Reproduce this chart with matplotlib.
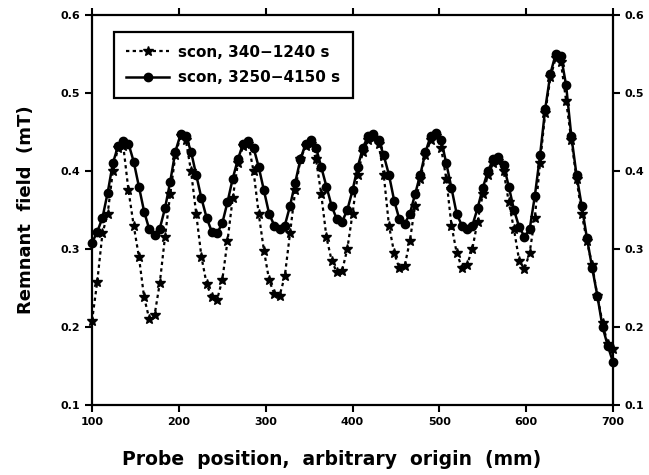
import numpy as np
import matplotlib
matplotlib.use("Agg")
import matplotlib.pyplot as plt

# probe positions (mm), 6 mm steps
position = list(range(100, 701, 6))

# scon, 340-1240 s  (dotted, stars)
early = [0.208, 0.258, 0.320, 0.345, 0.400, 0.430, 0.432, 0.375, 0.330, 0.290,
         0.238, 0.210, 0.215, 0.256, 0.315, 0.370, 0.420, 0.445, 0.440, 0.400,
         0.345, 0.290, 0.255, 0.238, 0.235, 0.260, 0.310, 0.365, 0.410, 0.432,
         0.435, 0.400, 0.345, 0.298, 0.260, 0.242, 0.240, 0.265, 0.320, 0.375,
         0.415, 0.432, 0.435, 0.415, 0.370, 0.315, 0.285, 0.270, 0.272, 0.300,
         0.345, 0.395, 0.425, 0.440, 0.442, 0.435, 0.395, 0.330, 0.295, 0.275,
         0.278, 0.310, 0.355, 0.390, 0.420, 0.440, 0.445, 0.430, 0.390, 0.330,
         0.295, 0.276, 0.280, 0.300, 0.335, 0.370, 0.395, 0.410, 0.413, 0.400,
         0.360, 0.325, 0.285, 0.274, 0.295, 0.340, 0.410, 0.475, 0.520, 0.545,
         0.540, 0.490, 0.440, 0.390, 0.345, 0.310, 0.280, 0.240, 0.205, 0.178,
         0.172]

# scon, 3250-4150 s  (solid, circles)
late = [0.308, 0.322, 0.340, 0.372, 0.410, 0.432, 0.438, 0.435, 0.412, 0.380,
        0.348, 0.325, 0.318, 0.326, 0.352, 0.386, 0.425, 0.447, 0.445, 0.425,
        0.395, 0.365, 0.340, 0.322, 0.320, 0.333, 0.360, 0.390, 0.415, 0.435,
        0.438, 0.430, 0.405, 0.375, 0.345, 0.330, 0.325, 0.330, 0.355, 0.385,
        0.415, 0.435, 0.440, 0.430, 0.405, 0.380, 0.355, 0.338, 0.335, 0.350,
        0.375, 0.405, 0.430, 0.445, 0.447, 0.440, 0.420, 0.395, 0.362, 0.338,
        0.332, 0.345, 0.370, 0.395, 0.424, 0.445, 0.449, 0.440, 0.410, 0.378,
        0.345, 0.330, 0.325, 0.330, 0.352, 0.378, 0.400, 0.415, 0.418, 0.408,
        0.380, 0.350, 0.328, 0.316, 0.325, 0.368, 0.420, 0.480, 0.525, 0.550,
        0.548, 0.510, 0.445, 0.395, 0.355, 0.314, 0.276, 0.240, 0.200, 0.176,
        0.155]

x_ticks = [100, 200, 300, 400, 500, 600, 700]
y_ticks = [0.1, 0.2, 0.3, 0.4, 0.5, 0.6]

plt.rcParams['font.family'] = 'DejaVu Sans'
plt.rcParams['font.weight'] = 'bold'

fig = plt.figure(figsize=(6.49, 4.75), dpi=100)
ax = fig.add_axes([0.1418, 0.1474, 0.8027, 0.821])

ax.plot(position, early, color='black', linestyle=(0, (1.5, 1.5)), linewidth=1.6,
        marker='*', markersize=7.5, label='scon, 340\u22121240 s', clip_on=False)
ax.plot(position, late, color='black', linestyle='-', linewidth=1.8,
        marker='o', markersize=6, label='scon, 3250\u22124150 s', clip_on=False)

ax.set_xlim(100, 700)
ax.set_ylim(0.1, 0.6)
ax.set_xticks(x_ticks)
ax.set_yticks(y_ticks)
ax.yaxis.set_major_formatter(matplotlib.ticker.FormatStrFormatter('%.1f'))
ax.tick_params(direction='out', length=5, width=1.5, labelsize=8,
               top=True, right=True, labelright=True)
for s in ax.spines.values():
    s.set_linewidth(1.6)

ax.set_xlabel('Probe  position,  arbitrary  origin  (mm)', fontsize=13.5,
              fontweight='bold')
ax.xaxis.set_label_coords(0.46, -0.115)
ax.set_ylabel('Remnant  field  (mT)', fontsize=13, fontweight='bold', labelpad=18)

leg = ax.legend(loc='upper left', bbox_to_anchor=(0.028, 0.975), fontsize=11,
                fancybox=False, framealpha=1, edgecolor='black', handlelength=2.8,
                borderpad=0.8, labelspacing=0.7, handletextpad=0.6)
leg.get_frame().set_linewidth(1.6)

plt.savefig('out.png', dpi=100)
plt.close()
